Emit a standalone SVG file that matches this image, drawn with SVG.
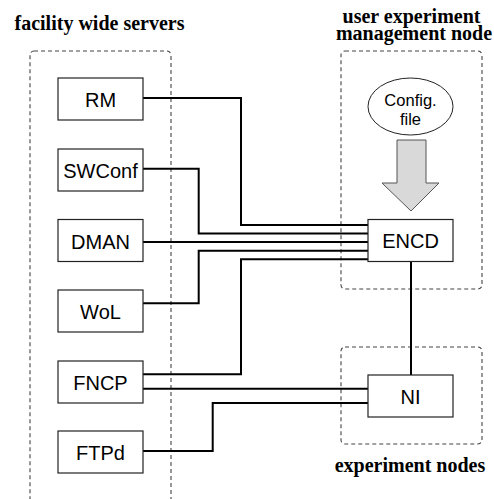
<svg xmlns="http://www.w3.org/2000/svg" width="494" height="499" viewBox="0 0 494 499">
<style>
.title{font-family:"Liberation Serif","Times New Roman",serif;font-weight:bold;font-size:20px;fill:#000;text-anchor:middle}
.lbl{font-family:"Liberation Sans",Arial,sans-serif;font-size:20px;fill:#000;text-anchor:middle}
.small{font-family:"Liberation Sans",Arial,sans-serif;font-size:16.5px;fill:#000;text-anchor:middle}
.box{fill:#fff;stroke:#222;stroke-width:1.2}
.group{fill:none;stroke:#444;stroke-width:1.1;stroke-dasharray:4 3}
.wire{fill:none;stroke:#000;stroke-width:2}
</style>
<rect width="494" height="499" fill="#fff"/>
<g id="groups">
<rect class="group" x="30" y="51" width="141" height="470" rx="4"/>
<rect class="group" x="341" y="51" width="141" height="238" rx="4"/>
<rect class="group" x="341" y="347" width="141" height="97" rx="4"/>
<text class="title" x="99.5" y="29.5">facility wide servers</text>
<text class="title" x="411.5" y="23">user experiment</text>
<text class="title" x="414" y="40">management node</text>
<text class="title" x="410" y="472">experiment nodes</text>
</g>
<g id="connectors">
<polyline class="wire" points="143,98 241,98 241,225 368,225"/>
<polyline class="wire" points="143,168.7 198.7,168.7 198.7,233.5 368,233.5"/>
<polyline class="wire" points="143,242 368,242"/>
<polyline class="wire" points="143,303.3 198.7,303.3 198.7,250.7 368,250.7"/>
<polyline class="wire" points="143,374.3 241,374.3 241,259.3 368,259.3"/>
<polyline class="wire" points="143,388.7 368,388.7"/>
<polyline class="wire" points="143,451 212.7,451 212.7,403 368,403"/>
<line class="wire" x1="411" y1="261" x2="411" y2="375" stroke-width="1.6"/>
<polygon points="397,140 426,140 426,183 439,183 411,211 382,183 397,183" fill="#d9d9d9" stroke="#555" stroke-width="1"/>
</g>
<g id="RM"><rect class="box" x="58" y="78" width="85" height="42"/><text class="lbl" x="100.5" y="107">RM</text></g>
<g id="SWConf"><rect class="box" x="58" y="149" width="85" height="42"/><text class="lbl" x="100.5" y="178">SWConf</text></g>
<g id="DMAN"><rect class="box" x="58" y="219.5" width="85" height="42"/><text class="lbl" x="100.5" y="248.5">DMAN</text></g>
<g id="WoL"><rect class="box" x="58" y="290" width="85" height="42"/><text class="lbl" x="100.5" y="319">WoL</text></g>
<g id="FNCP"><rect class="box" x="58" y="361" width="85" height="42"/><text class="lbl" x="100.5" y="390">FNCP</text></g>
<g id="FTPd"><rect class="box" x="58" y="431" width="85" height="42"/><text class="lbl" x="100.5" y="460">FTPd</text></g>
<g id="ENCD"><rect class="box" x="368" y="219.5" width="85" height="42"/><text class="lbl" x="410.5" y="248">ENCD</text></g>
<g id="NI"><rect class="box" x="368" y="375" width="85" height="42"/><text class="lbl" x="410.5" y="403.5">NI</text></g>
<g id="Config"><ellipse cx="410.5" cy="106.5" rx="42.5" ry="28.5" fill="#fff" stroke="#222" stroke-width="1"/><text class="small" x="410.5" y="106">Config.</text><text class="small" x="410.5" y="125">file</text></g>
</svg>
